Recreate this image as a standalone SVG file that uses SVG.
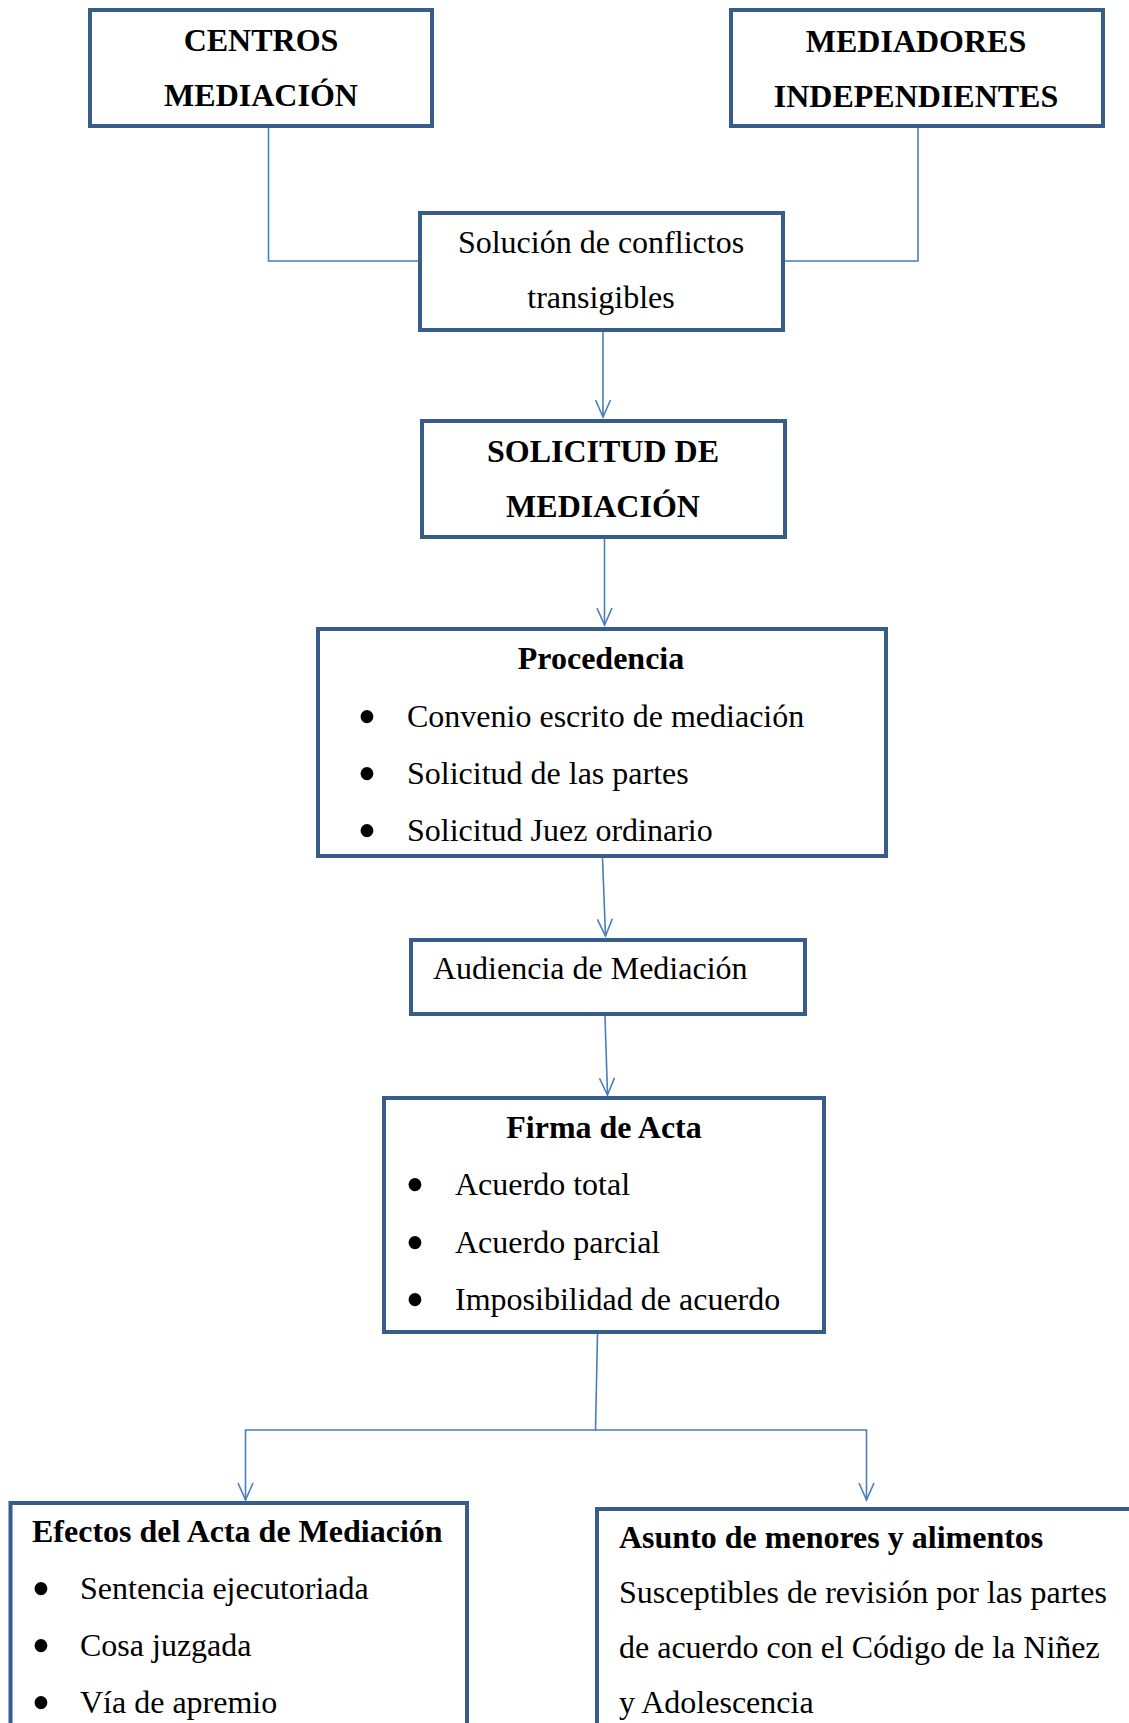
<svg xmlns="http://www.w3.org/2000/svg" width="1129" height="1723" viewBox="0 0 1129 1723">
<style>
.box{fill:#fff;stroke:#385D8A;stroke-width:4}
.con{fill:none;stroke:#4A7EBB;stroke-width:1.6}
text{font-family:"Liberation Serif","Times New Roman",serif;font-size:32px;fill:#000}
.b{font-weight:bold}
.c{text-anchor:middle}
.bul{font-size:54px}
</style>
<defs>
<marker id="arr" viewBox="-19 -10 21 20" refX="0" refY="0" markerWidth="21" markerHeight="20" markerUnits="userSpaceOnUse" orient="auto">
<path d="M-17,-7.5 L0,0 L-17,7.5" fill="none" stroke="#4A7EBB" stroke-width="1.6"/>
</marker>
</defs>
<rect width="1129" height="1723" fill="#fff"/>
<g id="connectors">
<path class="con" d="M268.5 128 V261 H418"/>
<path class="con" d="M918 128 V261 H785"/>
<path class="con" d="M603 332 V417" marker-end="url(#arr)"/>
<path class="con" d="M604.5 539 V625" marker-end="url(#arr)"/>
<path class="con" d="M602.5 858 L605.5 936" marker-end="url(#arr)"/>
<path class="con" d="M605 1016 L607.5 1095" marker-end="url(#arr)"/>
<path class="con" d="M597.5 1334 L595.5 1430 H245.5 V1500" marker-end="url(#arr)"/>
<path class="con" d="M595.5 1430 H866.5 V1500" marker-end="url(#arr)"/>
</g>
<g id="centros">
<rect class="box" x="90" y="10" width="342" height="116"/>
<text class="b c" x="261" y="51">CENTROS</text>
<text class="b c" x="261" y="106">MEDIACIÓN</text>
</g>
<g id="mediadores">
<rect class="box" x="731" y="10" width="372" height="116"/>
<text class="b c" x="916" y="52">MEDIADORES</text>
<text class="b c" x="916" y="107">INDEPENDIENTES</text>
</g>
<g id="solucion">
<rect class="box" x="420" y="213" width="363" height="117"/>
<text class="c" x="601" y="253">Solución de conflictos</text>
<text class="c" x="601" y="308">transigibles</text>
</g>
<g id="solicitud">
<rect class="box" x="422" y="421" width="363" height="116"/>
<text class="b c" x="603" y="462">SOLICITUD DE</text>
<text class="b c" x="603" y="517">MEDIACIÓN</text>
</g>
<g id="procedencia">
<rect class="box" x="318" y="629" width="568" height="227"/>
<text class="b c" x="601" y="669">Procedencia</text>
<text class="bul" x="357.5" y="734.5">•</text>
<text x="407" y="727">Convenio escrito de mediación</text>
<text class="bul" x="357.5" y="791.5">•</text>
<text x="407" y="784">Solicitud de las partes</text>
<text class="bul" x="357.5" y="848.5">•</text>
<text x="407" y="841">Solicitud Juez ordinario</text>
</g>
<g id="audiencia">
<rect class="box" x="411" y="940" width="394" height="74"/>
<text x="433" y="979">Audiencia de Mediación</text>
</g>
<g id="firma">
<rect class="box" x="384" y="1098" width="440" height="234"/>
<text class="b c" x="604" y="1138">Firma de Acta</text>
<text class="bul" x="405.5" y="1202.5">•</text>
<text x="455" y="1195">Acuerdo total</text>
<text class="bul" x="405.5" y="1260.5">•</text>
<text x="455" y="1253">Acuerdo parcial</text>
<text class="bul" x="405.5" y="1317.5">•</text>
<text x="455" y="1310">Imposibilidad de acuerdo</text>
</g>
<g id="efectos">
<rect class="box" x="10.5" y="1503" width="456.5" height="300"/>
<text class="b" x="32" y="1542">Efectos del Acta de Mediación</text>
<text class="bul" x="31.5" y="1606.5">•</text>
<text x="80" y="1599">Sentencia ejecutoriada</text>
<text class="bul" x="31.5" y="1663.5">•</text>
<text x="80" y="1656">Cosa juzgada</text>
<text class="bul" x="31.5" y="1720.5">•</text>
<text x="80" y="1713">Vía de apremio</text>
</g>
<g id="asunto">
<rect class="box" x="597" y="1509" width="600" height="300"/>
<text class="b" x="619" y="1548">Asunto de menores y alimentos</text>
<text x="619" y="1603">Susceptibles de revisión por las partes</text>
<text x="619" y="1658">de acuerdo con el Código de la Niñez</text>
<text x="619" y="1713">y Adolescencia</text>
</g>
</svg>
